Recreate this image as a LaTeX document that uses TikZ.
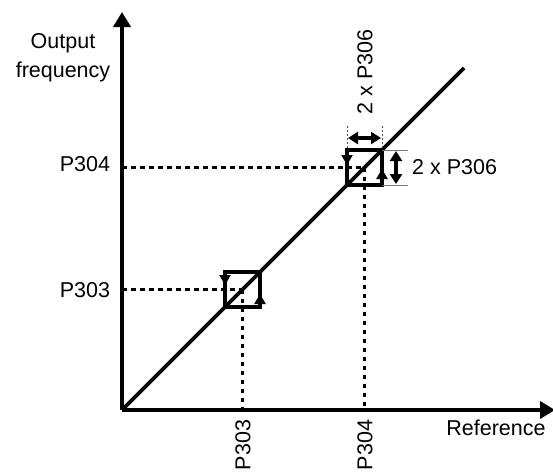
\documentclass[tikz,border=0pt]{standalone}
\usepackage{fontspec}
\setmainfont{Liberation Sans}
\usetikzlibrary{arrows.meta,calc}
\begin{document}
\begin{tikzpicture}[x=1pt,y=-1pt,
  axis/.style={line width=3.6pt,-{Triangle[length=15pt,width=17pt]}},
  curve/.style={line width=3.6pt},
  boxline/.style={line width=3.6pt},
  guide/.style={line width=3pt,dash pattern=on 4.5pt off 4.5pt},
  extv/.style={line width=0.9pt,dash pattern=on 2pt off 2pt,black!70},
  exth/.style={line width=0.9pt,black!55},
  dim/.style={line width=3.2pt,{Triangle[length=10pt,width=12pt]}-{Triangle[length=10pt,width=12pt]}},
  edgearrow/.style={line width=3.6pt,line cap=butt,-{Triangle[length=10pt,width=11pt]}},
  lbl/.style={font=\fontsize{21.5pt}{29pt}\selectfont,inner sep=0pt}
]
\useasboundingbox (0,0) rectangle (553,471);
% coordinates
\coordinate (O) at (122,410);
\coordinate (ytip) at (122,12);
\coordinate (xtip) at (555,410);
\coordinate (E) at (464,68);
% box 1
\coordinate (A1) at (225,307);
\coordinate (B1) at (260,272);
\coordinate (A1t) at (225,272);
\coordinate (B1b) at (260,307);
\coordinate (C1) at (242.5,289.5);
\coordinate (C1y) at (122,289.5);
\coordinate (C1x) at (242.5,410);
\coordinate (L1) at (225,285);
\coordinate (R1) at (260,294);
% box 2
\coordinate (A2) at (347,185);
\coordinate (B2) at (382,150);
\coordinate (A2t) at (347,150);
\coordinate (B2b) at (382,185);
\coordinate (C2) at (364.5,167.5);
\coordinate (C2y) at (122,167.5);
\coordinate (C2x) at (364.5,410);
\coordinate (L2) at (347,165);
\coordinate (R2) at (382,169);
% guides
\draw[guide] (C1y) -- (C1);
\draw[guide] (C1) -- (C1x);
\draw[guide] (C2y) -- (C2);
\draw[guide] (C2) -- (C2x);
% boxes
\draw[boxline] (A1) rectangle (B1);
\draw[boxline] (A2) rectangle (B2);
\draw[edgearrow] (A1t) -- (L1);
\draw[edgearrow] (B1b) -- (R1);
\draw[edgearrow] (A2t) -- (L2);
\draw[edgearrow] (B2b) -- (R2);
% curve
\draw[curve] (O) -- (E);
% axes
\draw[axis] (O) -- (ytip);
\draw[axis] (O) -- (xtip);
% dimension marks
\coordinate (eL1) at (347,126);
\coordinate (eR1) at (382,126);
\draw[extv] (eL1) -- (A2t);
\draw[extv] (eR1) -- (B2);
\coordinate (dL) at (348,138);
\coordinate (dR) at (381,138);
\draw[dim] (dL) -- (dR);
\coordinate (eT) at (408,150);
\coordinate (eB) at (408,185);
\draw[exth] (B2) -- (eT);
\draw[exth] (B2b) -- (eB);
\coordinate (dT) at (396,151);
\coordinate (dB) at (396,184);
\draw[dim] (dT) -- (dB);
% labels
\node[lbl,align=center] (yl) at (63,58) {Output\\frequency};
\node[lbl] (p304y) at (85,164) {P304};
\node[lbl] (p303y) at (85,290) {P303};
\node[lbl,rotate=90] (p303x) at (243,445) {P303};
\node[lbl,rotate=90] (p304x) at (365,445) {P304};
\node[lbl] (xl) at (496,428) {Reference};
\node[lbl,rotate=90] (w) at (365,72) {2 x P306};
\node[lbl,anchor=west] (h) at (412,167.5) {2 x P306};
\end{tikzpicture}
\end{document}
